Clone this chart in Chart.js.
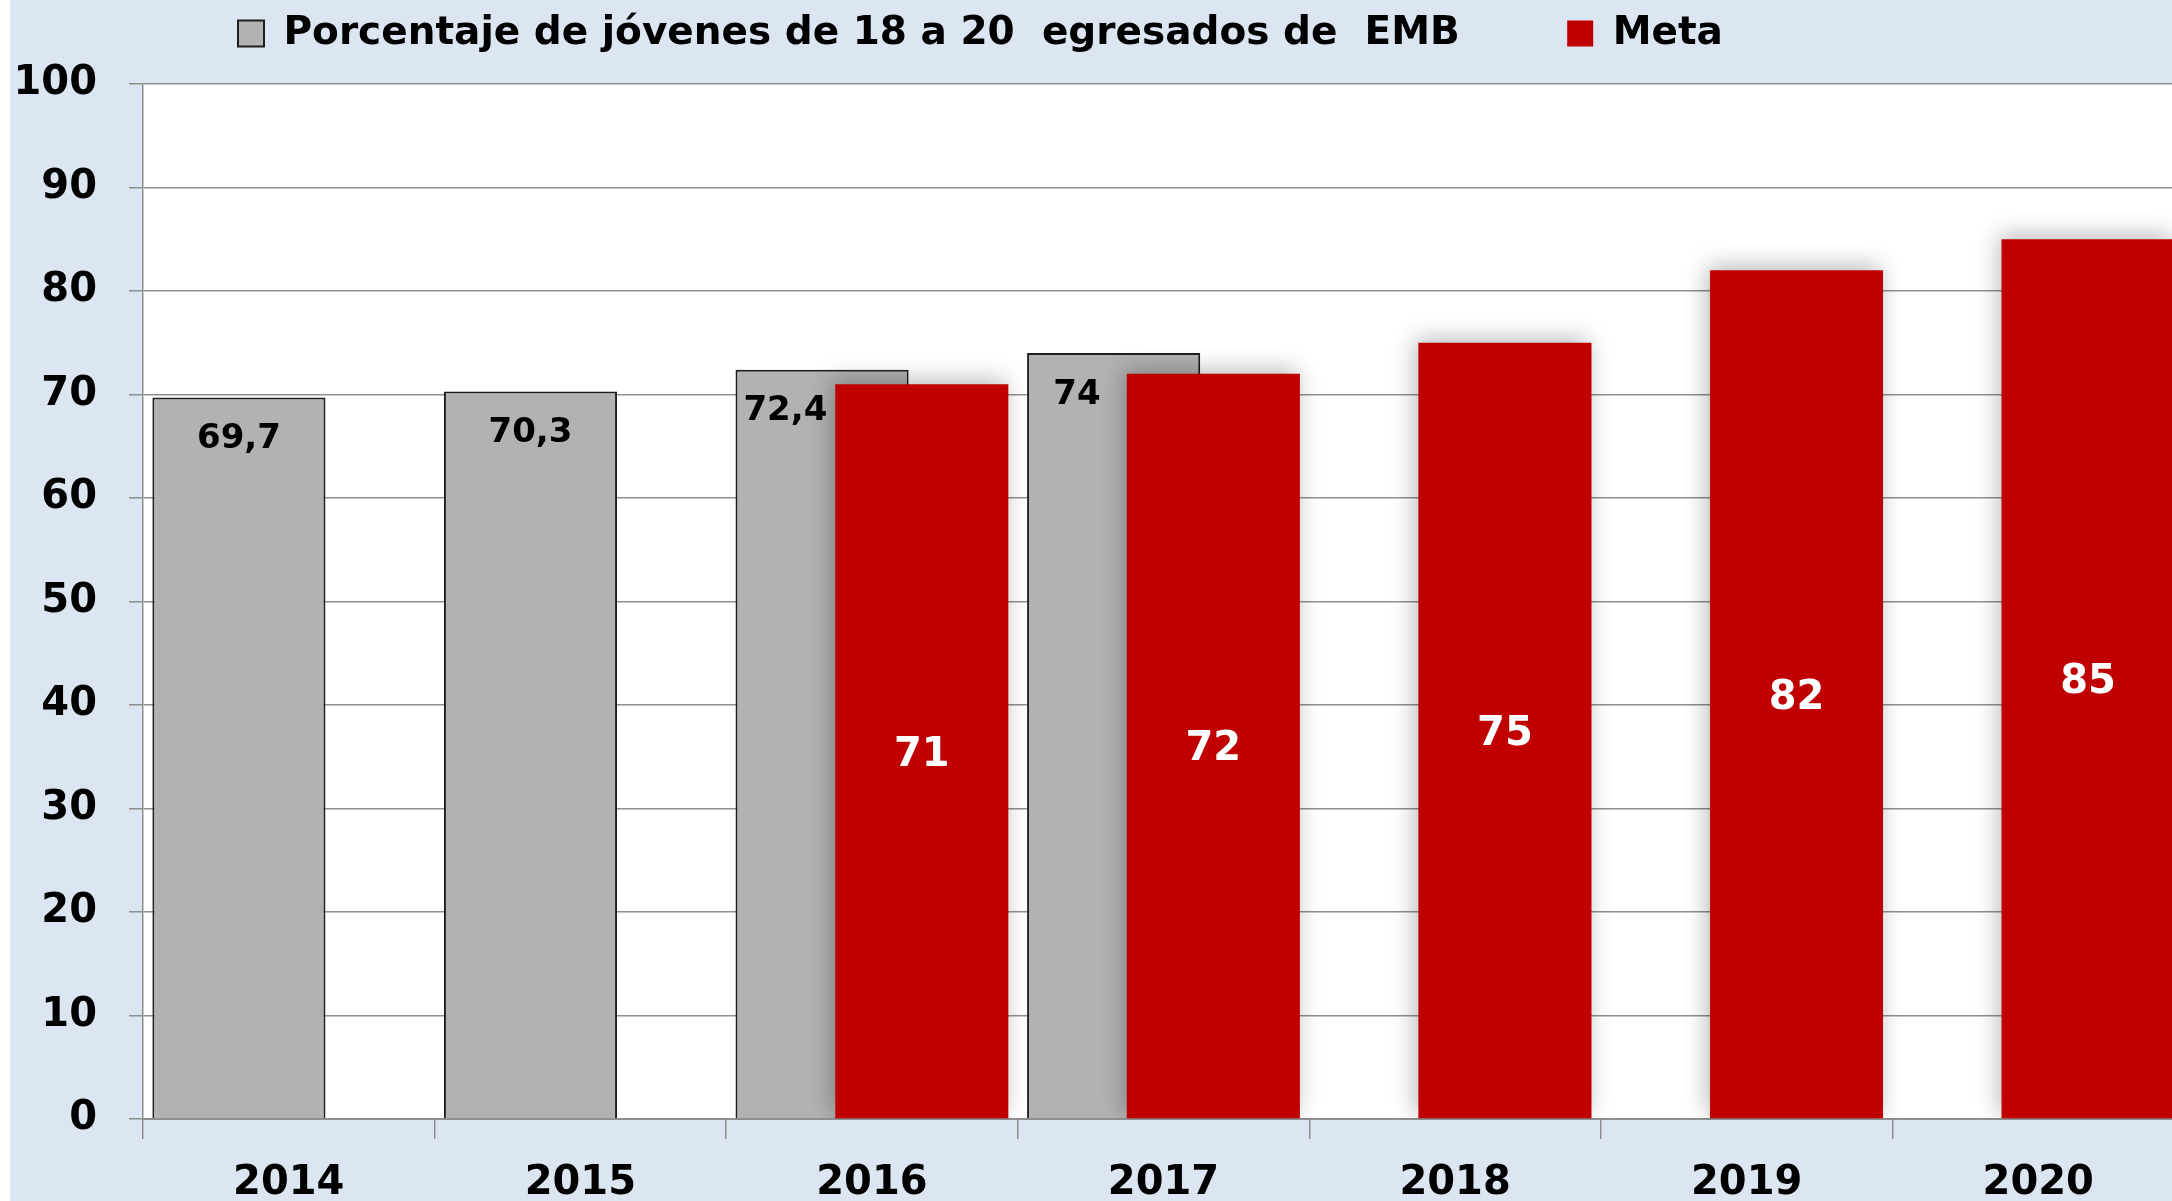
<!DOCTYPE html>
<html>
<head>
<meta charset="utf-8">
<title>Porcentaje de jóvenes de 18 a 20 egresados de EMB</title>
<script src="https://cdn.jsdelivr.net/npm/chart.js@4.4.1/dist/chart.umd.min.js"></script>
<style>
  html, body { margin: 0; padding: 0; background: #fff; overflow: hidden; }
  #wrap { position: absolute; left: 10px; top: 0; width: 2174px; height: 1201px; background: #dce6f2; }
</style>
</head>
<body>
<div id="wrap"><canvas id="chart"></canvas></div>
<script>
// data
const years = ["2014", "2015", "2016", "2017", "2018", "2019", "2020"];
const egresados = [69.7, 70.3, 72.4, 74, null, null, null];
const meta = [null, null, 71, 72, 75, 82, 85];

const egresadosLabel = "Porcentaje de jóvenes de 18 a 20  egresados de  EMB";
const metaLabel = "Meta";

const fmt = v => String(v).replace(".", ",");
const gridGrey = "#8f8f8f";
const boldFont = size => ({ family: "DejaVu Sans", weight: "bold", size: size });

// white plot area on the blue background
const plotBg = {
  id: "plotBg",
  beforeDraw(chart) {
    const a = chart.chartArea;
    chart.ctx.save();
    chart.ctx.fillStyle = "#fff";
    chart.ctx.fillRect(a.left, a.top, a.right - a.left, a.bottom - a.top);
    chart.ctx.restore();
  },
  // legend sits left of centre in the original
  afterLayout(chart) {
    chart.legend.left = 218;
  }
};

// grey bars sit on the left of each slot but the red ones overlap them:
// skip red in the normal pass and draw it (with a soft glow) after grey
const redOnTop = {
  id: "redOnTop",
  beforeDatasetDraw(chart, args) {
    if (args.index === 1) return false;
  },
  afterDatasetDraw(chart, args) {
    if (args.index !== 0) return;
    const ctx = chart.ctx;
    const a = chart.chartArea;
    ctx.save();
    ctx.beginPath();
    ctx.rect(a.left - 30, a.top - 30, a.right - a.left + 60, a.bottom - a.top + 30);
    ctx.clip();
    ctx.shadowColor = "rgba(0,0,0,0.28)";
    ctx.shadowBlur = 22;
    ctx.shadowOffsetX = -3;
    ctx.shadowOffsetY = -4;
    chart.getDatasetMeta(1).controller.draw();
    ctx.restore();
  }
};

// value labels
const valueLabels = {
  id: "valueLabels",
  afterDatasetsDraw(chart) {
    const ctx = chart.ctx;
    const greyBars = chart.getDatasetMeta(0).data;
    const redBars = chart.getDatasetMeta(1).data;
    ctx.save();
    ctx.textAlign = "center";
    ctx.textBaseline = "middle";

    ctx.fillStyle = "#000";
    ctx.font = 'bold 34px "DejaVu Sans"';
    greyBars.forEach((bar, i) => {
      if (egresados[i] == null) return;
      const left = bar.x - bar.width / 2;
      let right = bar.x + bar.width / 2;
      if (meta[i] != null) right = redBars[i].x - redBars[i].width / 2;
      ctx.fillText(fmt(egresados[i]), (left + right) / 2, bar.y + 42);
    });

    ctx.fillStyle = "#fff";
    ctx.font = 'bold 40px "DejaVu Sans"';
    redBars.forEach((bar, i) => {
      if (meta[i] == null) return;
      ctx.fillText(fmt(meta[i]), bar.x, (bar.y + bar.base) / 2 + 4);
    });
    ctx.restore();
  }
};

new Chart("chart", {
  type: "bar",
  data: {
    labels: years,
    datasets: [{
      label: egresadosLabel,
      data: egresados,
      backgroundColor: "#b2b2b2",
      borderColor: "#1e1e1e",
      borderWidth: 2
    }, {
      label: metaLabel,
      data: meta,
      backgroundColor: "#c00000",
      borderWidth: 0
    }]
  },
  options: {
    responsive: true,
    maintainAspectRatio: false,
    animation: false,
    layout: { padding: { top: 4 } },
    datasets: {
      bar: { categoryPercentage: 0.684, barPercentage: 1.736 }
    },
    scales: {
      x: {
        grid: { drawOnChartArea: false, tickLength: 20, color: gridGrey, lineWidth: 1.5 },
        border: { color: gridGrey, width: 2 },
        ticks: { color: "#000", font: boldFont(40), padding: 21 },
        afterFit: s => { s.height = 82; }
      },
      y: {
        min: 0,
        max: 100,
        grid: { color: gridGrey, lineWidth: 1.5, tickLength: 14 },
        border: { color: gridGrey, width: 1.5 },
        ticks: { stepSize: 10, color: "#000", font: boldFont(40), padding: 32 },
        afterFit: s => { s.width = 133; }
      }
    },
    plugins: {
      legend: {
        position: "top",
        align: "start",
        labels: {
          color: "#000",
          font: boldFont(39),
          boxWidth: 26,
          boxHeight: 26,
          padding: 10,
          generateLabels: chart => {
            const items = Chart.defaults.plugins.legend.labels.generateLabels(chart);
            items.forEach(it => { if (it.datasetIndex === 0) it.text += "\u2003\u2003\u2002"; });
            return items;
          }
        }
      },
      // empty spacer between legend and plot
      subtitle: {
        display: true,
        text: "",
        position: "top",
        weight: 500,
        font: { size: 10, lineHeight: 1 },
        padding: { top: 11, bottom: 0 }
      },
      tooltip: { enabled: false }
    }
  },
  plugins: [plotBg, redOnTop, valueLabels]
});
</script>
</body>
</html>
